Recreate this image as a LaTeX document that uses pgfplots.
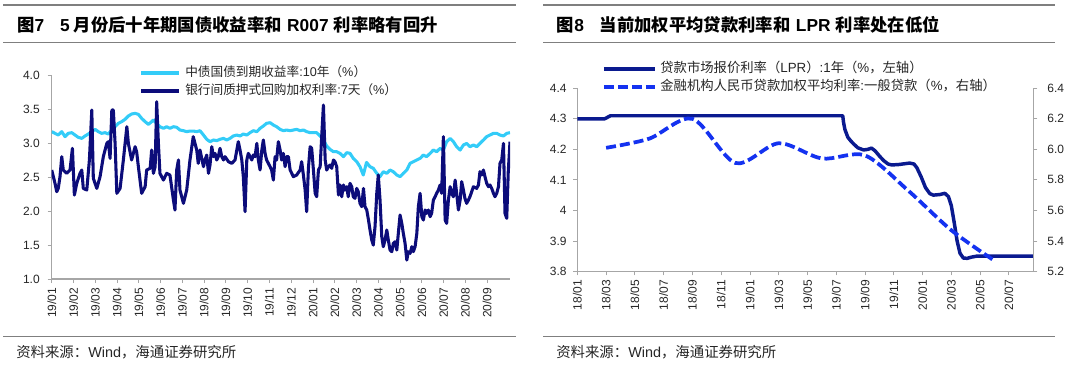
\documentclass[border=0pt]{standalone}
\usepackage{fontspec}
\setmainfont{Liberation Sans}
\newfontfamily\cjk{Noto Sans CJK SC}
\usepackage{pgfplots}
\usepackage{pgfplotstable}
\pgfplotsset{compat=1.18}

\definecolor{lblue}{HTML}{33CCF8}
\definecolor{navy}{HTML}{0C0C7A}
\definecolor{lprblue}{HTML}{0A1A8F}
\definecolor{dashblue}{HTML}{1432F0}
\definecolor{rulegray}{HTML}{7F7F7F}
\definecolor{axgray}{HTML}{A6A6A6}

% month index: 0 = 2019/01
\pgfplotstableread{
m v
0 3.174
0.15 3.149
0.30 3.124
0.46 3.174
0.61 3.100
0.76 3.149
0.92 3.159
1.07 3.124
1.22 3.090
1.38 3.075
1.53 3.110
1.68 3.139
1.84 3.174
1.99 3.208
2.14 3.174
2.29 3.149
2.45 3.159
2.60 3.139
2.75 3.198
2.91 3.247
3.06 3.297
3.21 3.321
3.37 3.356
3.52 3.405
3.67 3.434
3.83 3.444
3.98 3.429
4.13 3.370
4.29 3.321
4.44 3.282
4.59 3.321
4.67 3.346
4.82 3.297
4.97 3.247
5.13 3.223
5.28 3.247
5.43 3.223
5.59 3.247
5.74 3.238
5.89 3.198
6.05 3.188
6.20 3.174
6.35 3.183
6.50 3.183
6.66 3.174
6.81 3.188
6.97 3.124
7.12 3.061
7.27 3.026
7.43 3.051
7.58 3.041
7.73 3.061
7.89 3.075
8.04 3.051
8.19 3.075
8.34 3.110
8.50 3.124
8.65 3.110
8.80 3.139
8.96 3.124
9.11 3.159
9.26 3.188
9.42 3.174
9.57 3.223
9.72 3.257
9.87 3.297
10.03 3.306
10.18 3.272
10.33 3.247
10.49 3.208
10.64 3.188
10.79 3.198
10.95 3.188
11.10 3.198
11.25 3.208
11.41 3.188
11.56 3.198
11.71 3.174
11.87 3.159
12.02 3.159
12.17 3.159
12.33 3.110
12.48 3.051
12.63 2.962
12.78 2.913
12.94 2.878
13.09 2.878
13.24 2.854
13.40 2.805
13.55 2.864
13.70 2.854
13.85 2.780
14.01 2.731
14.16 2.657
14.31 2.534
14.46 2.720
14.62 2.657
14.77 2.633
14.93 2.559
15.08 2.510
15.23 2.583
15.39 2.559
15.54 2.608
15.69 2.583
15.85 2.534
16.00 2.510
16.15 2.559
16.31 2.608
16.46 2.706
16.61 2.731
16.77 2.756
16.92 2.780
17.07 2.829
17.22 2.805
17.38 2.854
17.53 2.903
17.68 2.878
17.84 2.928
17.99 2.903
18.14 3.026
18.30 3.075
18.45 3.026
18.60 2.952
18.76 2.903
18.91 2.977
19.06 3.001
19.21 2.952
19.37 2.977
19.52 2.952
19.67 3.001
19.83 3.051
19.98 3.100
20.13 3.124
20.29 3.149
20.44 3.149
20.59 3.124
20.75 3.110
20.90 3.149
21.05 3.159
}\tenyr

\pgfplotstableread{
m v
0 2.608
0.15 2.411
0.23 2.288
0.30 2.337
0.38 2.510
0.46 2.805
0.53 2.608
0.69 2.559
0.84 2.608
0.95 2.928
1.04 2.239
1.15 2.411
1.30 2.559
1.38 2.608
1.45 2.337
1.61 2.313
1.73 2.756
1.84 3.493
1.91 2.485
2.07 2.337
2.22 2.510
2.37 2.805
2.53 3.001
2.60 3.026
2.68 2.780
2.76 3.493
2.83 3.493
2.91 3.001
2.99 2.264
3.14 2.337
3.29 2.756
3.45 3.247
3.52 3.001
3.67 2.756
3.83 2.952
3.90 2.878
3.98 2.657
4.13 2.264
4.29 2.362
4.36 2.608
4.52 2.633
4.59 2.903
4.67 2.559
4.75 2.657
4.82 3.616
4.90 3.001
4.97 2.559
5.13 2.460
5.28 2.559
5.43 2.534
5.59 2.165
5.66 2.018
5.74 2.608
5.82 2.756
5.89 2.313
6.05 2.116
6.20 2.313
6.35 2.756
6.50 3.100
6.66 2.903
6.73 2.706
6.81 2.903
6.97 2.657
7.04 2.756
7.12 2.829
7.20 2.559
7.27 2.682
7.35 2.952
7.43 2.805
7.50 2.854
7.58 2.756
7.65 2.805
7.73 2.928
7.81 2.805
7.89 2.756
7.96 2.805
8.12 2.731
8.27 2.706
8.42 2.756
8.57 3.026
8.65 2.903
8.73 2.756
8.80 2.510
8.88 1.993
8.96 2.756
9.03 2.854
9.11 2.805
9.19 2.756
9.26 2.829
9.34 2.805
9.42 3.001
9.49 2.756
9.57 2.608
9.65 2.903
9.72 3.051
9.80 2.854
9.87 2.756
10.03 2.657
10.10 2.608
10.18 2.460
10.26 2.805
10.33 2.756
10.41 3.026
10.49 2.903
10.56 2.756
10.64 2.854
10.72 2.657
10.79 2.805
10.87 2.805
10.95 2.608
11.10 2.510
11.25 2.534
11.41 2.608
11.48 2.731
11.56 2.534
11.64 2.313
11.71 1.993
11.79 2.633
11.87 2.952
11.94 2.928
12.02 2.608
12.10 2.264
12.17 2.214
12.25 2.608
12.33 2.657
12.40 3.100
12.48 3.567
12.56 2.756
12.63 2.608
12.71 2.657
12.78 2.682
12.86 2.633
12.94 2.756
13.01 2.731
13.09 2.657
13.17 2.239
13.24 2.387
13.32 2.214
13.40 2.387
13.47 2.313
13.55 2.362
13.62 2.214
13.70 2.411
13.78 2.362
13.85 2.214
13.93 2.190
14.01 2.337
14.08 2.288
14.16 2.116
14.24 2.067
14.32 2.337
14.39 2.067
14.47 2.018
14.55 1.870
14.62 1.723
14.70 1.575
14.77 1.501
14.85 1.772
14.93 2.264
15.00 2.534
15.08 2.165
15.16 1.624
15.23 1.477
15.31 1.575
15.39 1.723
15.46 1.575
15.54 1.427
15.62 1.403
15.69 1.526
15.77 1.550
15.85 1.427
15.92 1.673
16.00 1.944
16.08 1.821
16.15 1.673
16.23 1.526
16.31 1.280
16.38 1.403
16.46 1.378
16.54 1.477
16.61 1.403
16.69 1.477
16.77 1.673
16.84 2.067
16.92 2.264
17.00 1.919
17.07 1.870
17.15 2.018
17.22 1.969
17.30 2.018
17.38 1.919
17.45 1.969
17.53 2.165
17.61 2.214
17.68 2.264
17.76 2.313
17.84 2.387
17.91 2.264
17.99 3.100
18.07 1.870
18.14 1.821
18.22 2.165
18.30 2.362
18.37 2.264
18.45 2.214
18.53 2.460
18.60 2.264
18.68 2.018
18.76 2.165
18.83 2.436
18.91 2.313
18.98 2.190
19.06 2.116
19.14 2.165
19.21 2.214
19.37 2.362
19.52 2.337
19.60 2.387
19.67 2.583
19.75 2.534
19.83 2.608
19.90 2.510
19.98 2.411
20.06 2.362
20.13 2.387
20.21 2.337
20.29 2.264
20.36 2.214
20.44 2.264
20.52 2.362
20.59 2.706
20.67 2.756
20.75 3.001
20.82 1.969
20.90 1.895
20.97 2.583
21.05 3.026
}\repo

% month index: 0 = 2018/01
\pgfplotstableread{
m v
0 4.300
1.9 4.300
2.1 4.305
2.3 4.310
18.45 4.310
18.5 4.290
18.6 4.265
18.8 4.240
19.0 4.228
19.2 4.218
19.5 4.205
19.9 4.198
20.2 4.200
20.45 4.204
20.7 4.195
21.0 4.178
21.3 4.163
21.6 4.152
21.85 4.149
22.3 4.150
23.1 4.155
23.4 4.152
23.6 4.140
23.9 4.110
24.2 4.075
24.5 4.055
24.75 4.050
25.2 4.052
25.55 4.056
25.8 4.045
26.0 4.015
26.2 3.960
26.4 3.900
26.6 3.860
26.83 3.844
27.1 3.843
27.4 3.847
27.75 3.850
31.8 3.850
}\lpr

\pgfplotstableread{
m v
2 6.01
5 6.07
8 6.20
11 5.91
14 6.04
17 5.94
20 5.96
23 5.73
26 5.47
29 5.27
}\wavg

\pgfplotsset{
  base/.style={
    scale only axis,
    anchor=south west,
    tick align=outside,
    major tick length=3pt,
    tick style={axgray, line width=0.6pt},
    axis line style={-, axgray, line width=0.8pt},
    ticklabel style={font=\fontsize{9}{10}\selectfont, text=black!85},
    /pgf/number format/assume math mode=true,
    xticklabel style={rotate=90, anchor=east},
    legend style={draw=none, fill=none, inner sep=0pt, column sep=3pt,
      font=\fontsize{9.5}{10}\selectfont, text=black!85,
      nodes={inner sep=0pt, text height=7.5pt, text depth=2.5pt}, row sep=3.6pt},
    legend cell align=left,
  }
}

\begin{document}
\begin{tikzpicture}
\path[use as bounding box] (0,0) rectangle (810pt,276pt);
% frame rules
\draw[rulegray, line width=1pt] (2.25pt,272.25pt) -- (387pt,272.25pt);
\draw[rulegray, line width=1pt] (2.25pt,244.3pt) -- (387pt,244.3pt);
\draw[rulegray, line width=1pt] (2.25pt,23.5pt) -- (387pt,23.5pt);
\draw[rulegray, line width=1pt] (407.25pt,272.25pt) -- (791.25pt,272.25pt);
\draw[rulegray, line width=1pt] (407.25pt,244.3pt) -- (791.25pt,244.3pt);
\draw[rulegray, line width=1pt] (407.25pt,23.5pt) -- (791.25pt,23.5pt);
% titles
\node[anchor=west, inner sep=0pt, font=\fontsize{13}{15}\selectfont] at (12.75pt,257.25pt)
  {{\cjk\bfseries 图}\textbf{7}\hspace{12pt}\textbf{5}\hspace{3pt}{\cjk\bfseries 月份后十年期国债收益率和}\hspace{4pt}\textbf{R007}\hspace{4pt}{\cjk\bfseries 利率略有回升}};
\node[anchor=west, inner sep=0pt, font=\fontsize{13}{15}\selectfont] at (417.5pt,257.25pt)
  {{\cjk\bfseries 图}\textbf{8}\hspace{12pt}{\cjk\bfseries 当前加权平均贷款利率和}\hspace{4pt}\textbf{LPR}\hspace{4pt}{\cjk\bfseries 利率处在低位}};
% sources
\node[anchor=west, inner sep=0pt, font=\fontsize{10.8}{12}\selectfont, text=black!85] at (12pt,12.2pt)
  {{\cjk 资料来源：}Wind{\cjk ，海通证券研究所}};
\node[anchor=west, inner sep=0pt, font=\fontsize{10.8}{12}\selectfont, text=black!85] at (417pt,12.2pt)
  {{\cjk 资料来源：}Wind{\cjk ，海通证券研究所}};

% ---------- left chart ----------
\begin{axis}[base,
  at={(38.8pt,66.75pt)}, width=343.7pt, height=152.5pt,
  xmin=0, xmax=21.05, ymin=1, ymax=4,
  axis x line*=bottom, axis y line*=left,
  ytick={1,1.5,...,4},
  yticklabel style={xshift=-2.5pt},
  /pgf/number format/.cd, fixed, fixed zerofill, precision=1, /pgfplots/.cd,
  xtick={0,1,...,20},
  xticklabels={19/01,19/02,19/03,19/04,19/05,19/06,19/07,19/08,19/09,19/10,19/11,19/12,20/01,20/02,20/03,20/04,20/05,20/06,20/07,20/08,20/09},
  legend style={at={(axis description cs:0.1905,1.046)}, anchor=north west},
  legend image code/.code={\draw[#1, line width=3pt] (0pt,0pt) -- (28.5pt,0pt);},
]
\addplot[lblue, line width=2.3pt, line join=round] table[x=m,y=v] {\tenyr};
\addlegendentry{{\cjk 中债国债到期收益率}:10{\cjk 年（}\%{\cjk ）}}
\addplot[navy, line width=2.3pt, line join=round] table[x=m,y=v] {\repo};
\addlegendentry{{\cjk 银行间质押式回购加权利率}:7{\cjk 天（}\%{\cjk ）}}
\end{axis}

% ---------- right chart ----------
\begin{axis}[base,
  at={(433pt,72.4pt)}, width=342pt, height=137.4pt,
  xmin=0, xmax=31.7, ymin=3.8, ymax=4.4,
  axis x line*=bottom, axis y line*=left,
  ytick={3.8,3.9,4.0,4.1,4.2,4.3,4.4},
  yticklabel style={xshift=-1.5pt},
  /pgf/number format/.cd, fixed, precision=1, /pgfplots/.cd,
  xtick={0,2,...,30},
  xticklabels={18/01,18/03,18/05,18/07,18/09,18/11,19/01,19/03,19/05,19/07,19/09,19/11,20/01,20/03,20/05,20/07},
  legend style={at={(axis description cs:0.0535,1.142)}, anchor=north west, font=\fontsize{10}{11}\selectfont},
  legend image code/.code={\draw[#1] (0pt,0pt) -- (38pt,0pt);},
]
\addplot[lprblue, line width=2.6pt, line join=round] table[x=m,y=v] {\lpr};
\addlegendentry{{\cjk 贷款市场报价利率（}LPR{\cjk ）}:1{\cjk 年（}\%{\cjk ，左轴）}}
\addlegendimage{dashblue, line width=2.8pt, dash pattern=on 7.5pt off 3pt}
\addlegendentry{{\cjk 金融机构人民币贷款加权平均利率}:{\cjk 一般贷款（}\%{\cjk ，右轴）}}
\end{axis}
\begin{axis}[base,
  at={(433pt,72.4pt)}, width=342pt, height=137.4pt,
  xmin=0, xmax=31.7, ymin=5.2, ymax=6.4,
  axis x line=none, axis y line*=right,
  ytick={5.2,5.4,...,6.4},
  yticklabel style={xshift=4pt},
  /pgf/number format/.cd, fixed, fixed zerofill, precision=1, /pgfplots/.cd,
]
\addplot[dashblue, line width=2.8pt, dash pattern=on 7.5pt off 3pt, smooth, tension=0.5] table[x=m,y=v] {\wavg};
\end{axis}
\end{tikzpicture}
\end{document}
